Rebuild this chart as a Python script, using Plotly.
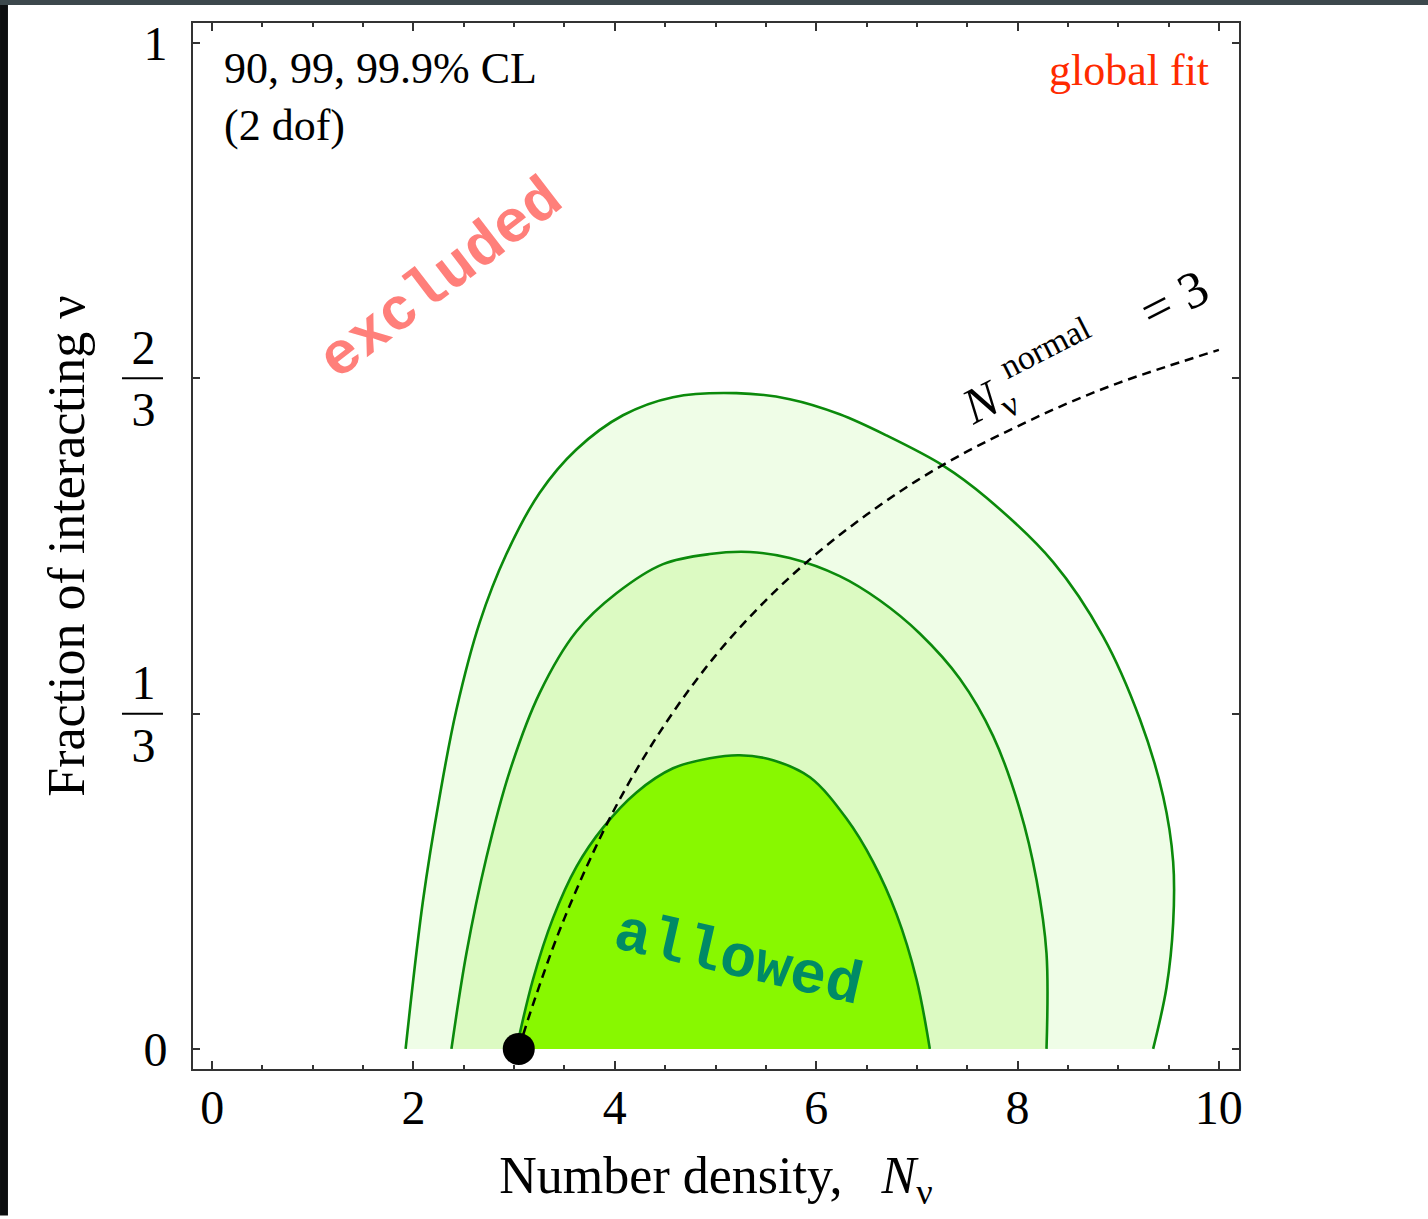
import plotly.graph_objects as go

# Confidence-level contours in the (N_nu, fraction interacting) plane
outer_x = [1.922, 2.094, 2.260, 2.426, 2.658, 2.923, 3.254, 3.618, 4.081, 4.578, 5.208, 5.738,
           6.234, 6.698, 7.261, 7.692, 8.354, 8.851, 9.215, 9.447, 9.546, 9.546, 9.480, 9.347]
outer_y = [0.0, 0.147, 0.251, 0.337, 0.424, 0.492, 0.553, 0.596, 0.630, 0.648, 0.652, 0.646,
           0.631, 0.610, 0.580, 0.548, 0.484, 0.410, 0.328, 0.251, 0.186, 0.125, 0.061, 0.0]

middle_x = [2.377, 2.526, 2.724, 2.956, 3.254, 3.618, 4.016, 4.479, 4.943, 5.340, 5.738,
            6.234, 6.630, 7.029, 7.427, 7.758, 8.023, 8.189, 8.288, 8.288]
middle_y = [0.0, 0.095, 0.190, 0.276, 0.354, 0.415, 0.453, 0.482, 0.492, 0.494, 0.488,
            0.470, 0.446, 0.413, 0.368, 0.311, 0.238, 0.168, 0.095, 0.0]

inner_x = [3.022, 3.187, 3.386, 3.618, 3.883, 4.215, 4.578, 4.943, 5.241, 5.572, 5.938,
           6.301, 6.565, 6.798, 6.997, 7.129]
inner_y = [0.0, 0.069, 0.130, 0.181, 0.220, 0.255, 0.279, 0.289, 0.292, 0.287, 0.270,
           0.229, 0.186, 0.134, 0.069, 0.0]

# Curve of constant normal-neutrino number, N_nu^normal = 3
normal_x = [3.046, 3.2, 3.5, 4.0, 4.5, 5.0, 5.5, 6.0, 6.5, 7.0, 7.5, 8.0, 8.5, 9.0, 9.5, 10.0]
normal_y = [0.0, 0.048, 0.130, 0.239, 0.323, 0.391, 0.446, 0.492, 0.531, 0.565, 0.594,
            0.619, 0.642, 0.662, 0.679, 0.695]

# Standard-model point
best_x = [3.046]
best_y = [0.0]

x_ticks = [0, 2, 4, 6, 8, 10]
y_tick_vals = [0, 1 / 3, 2 / 3, 1]
y_tick_text = ["0", "1&nbsp;<br>3&nbsp;", "2&nbsp;<br>3&nbsp;", "1"]

SERIF = "Liberation Serif, Times New Roman, serif"
MONO = "Liberation Mono, Courier New, monospace"
LINE_GREEN = "#0b8a0b"
SMOOTH = 1.0

fig = go.Figure()

regions = [
    (outer_x, outer_y, "#effde7"),
    (middle_x, middle_y, "#dcfac2"),
    (inner_x, inner_y, "#88f800"),
]
for xs, ys, color in regions:
    fig.add_trace(go.Scatter(x=xs, y=ys, mode="lines", fill="toself", fillcolor=color,
                             line=dict(width=0, shape="spline", smoothing=SMOOTH),
                             hoverinfo="skip", showlegend=False))
for xs, ys, _ in regions:
    fig.add_trace(go.Scatter(x=xs, y=ys, mode="lines",
                             line=dict(color=LINE_GREEN, width=2.6, shape="spline", smoothing=SMOOTH),
                             hoverinfo="skip", showlegend=False))

fig.add_trace(go.Scatter(x=normal_x, y=normal_y, mode="lines",
                         line=dict(color="black", width=2.5, dash="9px,6px", shape="spline"),
                         hoverinfo="skip", showlegend=False))

fig.add_trace(go.Scatter(x=best_x, y=best_y, mode="markers",
                         marker=dict(color="black", size=32), cliponaxis=False,
                         hoverinfo="skip", showlegend=False))

axis_common = dict(showline=True, linecolor="#333333", linewidth=2, mirror="ticks",
                   ticks="inside", tickcolor="#333333", tickwidth=1.5,
                   showgrid=False, zeroline=False,
                   tickfont=dict(family=SERIF, size=48, color="black"))

fig.update_xaxes(range=[-0.19, 10.2], tickvals=x_ticks, ticklen=8,
                 minor=dict(dtick=0.5, ticks="inside", ticklen=4, tickcolor="#333333"),
                 ticklabelstandoff=-5,
                 title=dict(text="Number density,   <i>N</i><sub>ν</sub>",
                            font=dict(family=SERIF, size=52, color="black"), standoff=24),
                 **axis_common)
fig.update_yaxes(range=[-0.02, 1.02], tickvals=y_tick_vals, ticktext=y_tick_text, ticklen=7,
                 ticklabelstandoff=14,
                 title=dict(text="Fraction of interacting ν",
                            font=dict(family=SERIF, size=52, color="black"), standoff=30),
                 **axis_common)

# fraction bars for the 1/3 and 2/3 tick labels
shapes = []
for v in (1 / 3, 2 / 3):
    shapes.append(dict(type="line", xref="paper", yref="y", x0=-0.0679, x1=-0.0287,
                       y0=v, y1=v, line=dict(color="black", width=2)))
# dark frame edges around the page
shapes.append(dict(type="rect", xref="paper", yref="paper", x0=-0.1845, x1=-0.1769,
                   y0=-0.14, y1=1.03, fillcolor="#0c0e0f", line=dict(width=0), layer="above"))
shapes.append(dict(type="rect", xref="paper", yref="paper", x0=-0.1845, x1=1.181,
                   y0=1.0172, y1=1.03, fillcolor="#3c484c", line=dict(width=0), layer="above"))

annotations = [
    dict(x=0.094, y=0.946, xref="x", yref="y", text="90, 99, 99.9% CL<br>(2 dof)",
         showarrow=False, xanchor="left", yanchor="middle", align="left",
         font=dict(family=SERIF, size=44, color="black")),
    dict(x=9.92, y=0.973, xref="x", yref="y", text="global fit", showarrow=False,
         xanchor="right", yanchor="middle", font=dict(family=SERIF, size=44, color="#ff2a00")),
    dict(x=2.28, y=0.764, xref="x", yref="y", text="<b>excluded</b>", showarrow=False,
         textangle=-37.5, font=dict(family=MONO, size=60, color="#ff7f7a")),
    dict(x=5.221, y=0.088, xref="x", yref="y", text="<b>allowed</b>", showarrow=False,
         textangle=13, font=dict(family=MONO, size=60, color="#008a66")),
    dict(x=7.72, y=0.643, xref="x", yref="y", text="<i>N</i><sub>ν</sub>", showarrow=False,
         textangle=-27, font=dict(family=SERIF, size=50, color="black")),
    dict(x=8.27, y=0.697, xref="x", yref="y", text="normal", showarrow=False,
         textangle=-27, font=dict(family=SERIF, size=34, color="black")),
    dict(x=9.55, y=0.745, xref="x", yref="y", text="= 3", showarrow=False,
         textangle=-27, font=dict(family=SERIF, size=52, color="black")),
]

fig.update_layout(width=1428, height=1219,
                  margin=dict(l=193, r=189, t=23, b=150, autoexpand=False),
                  paper_bgcolor="white", plot_bgcolor="white",
                  shapes=shapes, annotations=annotations)

fig.write_html("out.html")
